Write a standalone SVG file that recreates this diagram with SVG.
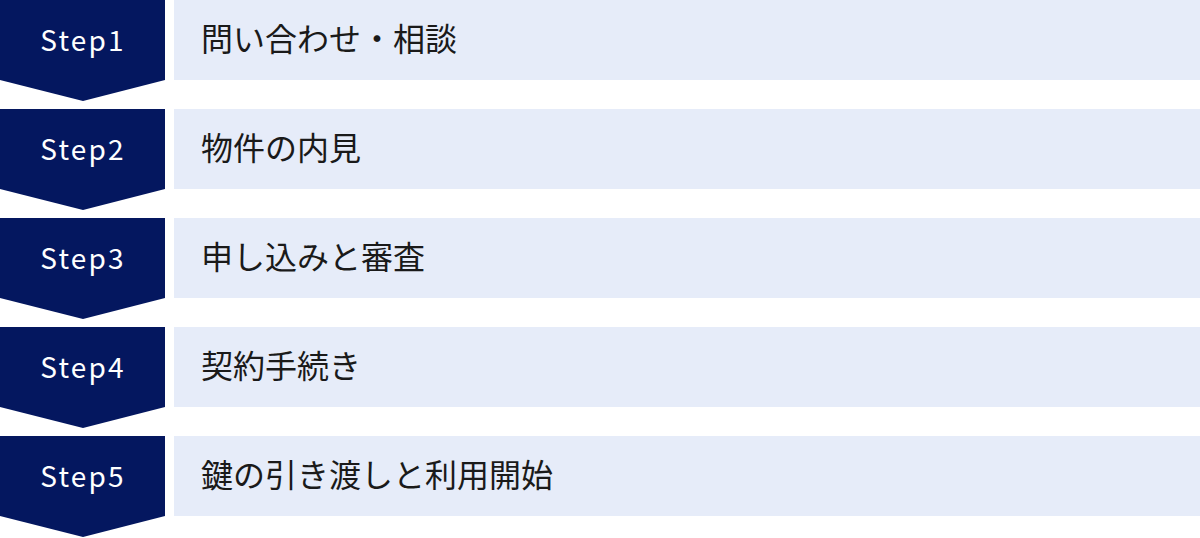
<svg xmlns="http://www.w3.org/2000/svg" width="1200" height="538" viewBox="0 0 1200 538">
<style>
.arrow{fill:#04175f}
.box{fill:#e6ecf9}
.step{font-family:"Noto Sans CJK JP","Noto Sans",sans-serif;font-size:28px;fill:#ffffff;text-anchor:middle;letter-spacing:2.2px}
.label{font-family:"Noto Sans CJK JP","Noto Sans",sans-serif;font-size:32px;fill:#1a1a1a}
</style>
<rect width="1200" height="538" fill="#ffffff"/>
<g id="step1">
<path class="arrow" d="M0 0H165V80L83 101L0 80Z"/>
<rect class="box" x="174" y="0" width="1026" height="80"/>
<text class="step" x="83" y="51">Step1</text>
<text class="label" x="201" y="51">問い合わせ・相談</text>
</g>
<g id="step2">
<path class="arrow" d="M0 109H165V189L83 210L0 189Z"/>
<rect class="box" x="174" y="109" width="1026" height="80"/>
<text class="step" x="83" y="160">Step2</text>
<text class="label" x="201" y="160">物件の内見</text>
</g>
<g id="step3">
<path class="arrow" d="M0 218H165V298L83 319L0 298Z"/>
<rect class="box" x="174" y="218" width="1026" height="80"/>
<text class="step" x="83" y="269">Step3</text>
<text class="label" x="201" y="269">申し込みと審査</text>
</g>
<g id="step4">
<path class="arrow" d="M0 327H165V407L83 428L0 407Z"/>
<rect class="box" x="174" y="327" width="1026" height="80"/>
<text class="step" x="83" y="378">Step4</text>
<text class="label" x="201" y="378">契約手続き</text>
</g>
<g id="step5">
<path class="arrow" d="M0 436H165V516L83 537L0 516Z"/>
<rect class="box" x="174" y="436" width="1026" height="80"/>
<text class="step" x="83" y="487">Step5</text>
<text class="label" x="201" y="487">鍵の引き渡しと利用開始</text>
</g>
<g id="connectors"></g>
</svg>
